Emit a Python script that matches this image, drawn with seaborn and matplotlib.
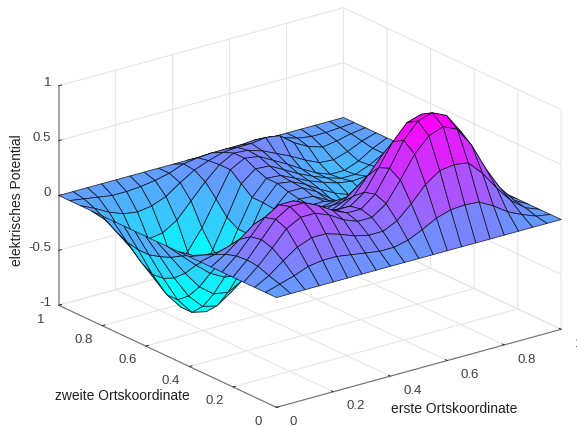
import numpy as np
import seaborn as sns
import matplotlib
matplotlib.use("Agg")
import matplotlib.pyplot as plt

# node positions on both space axes
x_nodes = [round(i * 0.05, 2) for i in range(21)]
y_nodes = [round(i * 0.05, 2) for i in range(21)]

# potential heights, one row per y node, x runs left to right
z_rows = [
    [0] * 21,
    [0, .04, .08, .13, .15, .15, .13, .11, .09, .09, .12, .18, .25, .29, .30, .29, .22, .13, .07, .02, 0],
    [0, .07, .17, .26, .31, .31, .27, .22, .19, .19, .25, .37, .51, .60, .62, .60, .47, .30, .15, .05, 0],
    [0, .11, .24, .38, .45, .45, .40, .32, .27, .27, .36, .54, .74, .87, .92, .86, .68, .43, .22, .07, 0],
    [0, .12, .27, .42, .50, .50, .44, .36, .30, .30, .40, .60, .82, .96, 1.0, .94, .76, .48, .25, .08, 0],
    [0, .11, .25, .39, .47, .47, .41, .33, .28, .28, .37, .56, .76, .90, .94, .88, .70, .44, .23, .08, 0],
    [0, .08, .18, .28, .33, .33, .29, .24, .21, .21, .29, .44, .59, .70, .71, .68, .54, .33, .17, .06, 0],
    [0, .03, .07, .12, .14, .14, .12, .11, .11, .13, .19, .29, .38, .44, .44, .41, .30, .18, .09, .03, 0],
    [0, -.02, -.03, -.04, -.05, -.05, -.05, -.03, .01, .06, .11, .15, .19, .20, .18, .15, .09, .04, .02, .00, 0],
    [0, -.07, -.14, -.20, -.24, -.25, -.22, -.16, -.08, .00, .05, .07, .06, .03, -.01, -.04, -.06, -.06, -.04, -.01, 0],
    [0, -.12, -.24, -.35, -.42, -.44, -.39, -.28, -.15, -.04, .02, .02, -.03, -.09, -.15, -.18, -.18, -.14, -.08, -.03, 0],
    [0, -.18, -.36, -.52, -.62, -.64, -.57, -.42, -.23, -.06, .03, .02, -.05, -.15, -.23, -.28, -.26, -.21, -.12, -.05, 0],
    [0, -.22, -.45, -.65, -.78, -.81, -.72, -.52, -.28, -.07, .05, .05, -.02, -.12, -.20, -.24, -.25, -.21, -.13, -.05, 0],
    [0, -.25, -.50, -.73, -.88, -.91, -.81, -.59, -.31, -.06, .08, .06, .00, -.08, -.15, -.20, -.21, -.18, -.12, -.05, 0],
    [0, -.25, -.51, -.73, -.88, -.91, -.81, -.59, -.31, -.06, .08, .07, .01, -.05, -.10, -.14, -.16, -.15, -.11, -.05, 0],
    [0, -.23, -.45, -.65, -.78, -.81, -.71, -.51, -.25, .02, .12, .11, .04, -.03, -.09, -.14, -.18, -.18, -.13, -.06, 0],
    [0, -.18, -.36, -.52, -.62, -.62, -.54, -.36, -.13, .10, .17, .15, .08, .01, -.07, -.14, -.19, -.19, -.14, -.06, 0],
    [0, -.12, -.24, -.35, -.40, -.38, -.30, -.16, -.02, .10, .17, .16, .12, .06, .00, -.07, -.13, -.14, -.10, -.04, 0],
    [0, -.06, -.13, -.18, -.20, -.18, -.13, -.04, .04, .09, .13, .14, .14, .16, .14, .04, -.03, -.07, -.05, -.02, 0],
    [0, -.02, -.04, -.06, -.06, -.05, -.03, .00, .05, .07, .08, .08, .08, .09, .08, .04, .00, -.02, -.02, -.01, 0],
    [0] * 21,
]

xy_ticks = [0, 0.2, 0.4, 0.6, 0.8, 1]
xy_labels = ["0", "0.2", "0.4", "0.6", "0.8", "1"]
z_ticks = [-1, -0.5, 0, 0.5, 1]
z_labels = ["-1", "-0.5", "0", "0.5", "1"]

sns.set_theme(style="white")
plt.rcParams["font.family"] = ["Liberation Sans", "DejaVu Sans"]

fig = plt.figure(figsize=(5.77, 4.27), dpi=100)
ax = fig.add_axes([-0.0858, -0.3302, 700 / 577, 700 / 427], projection="3d")
ax.set_proj_type("ortho")
ax.view_init(elev=21, azim=-127.4)
ax.set_box_aspect((1, 1, 0.656), zoom=0.775)
ax.patch.set_alpha(0)

X, Y = np.meshgrid(x_nodes, y_nodes)
Z = np.array(z_rows, dtype=float)

# cyan to magenta map, saturates at both ends like the original
cmap = sns.color_palette("cool", as_cmap=True)
ax.plot_surface(X, Y, Z, rstride=1, cstride=1, cmap=cmap, vmin=-0.6, vmax=0.95,
                edgecolor=(0, 0, 0, 0.75), linewidth=0.6, shade=False)

ax.set_xlim(0, 1)
ax.set_ylim(0, 1)
ax.set_zlim(-1, 1)
ax.set_xticks(xy_ticks)
ax.set_yticks(xy_ticks)
ax.set_zticks(z_ticks)
ax.set_xticklabels(xy_labels)
ax.set_yticklabels(xy_labels)
ax.set_zticklabels(z_labels)
ax.tick_params(axis="both", labelsize=9.5, labelcolor="#404040")
ax.tick_params(axis="x", pad=8)
ax.tick_params(axis="y", pad=9)
ax.tick_params(axis="z", pad=-4)

for lab in ax.get_xticklabels():
    lab.set_ha("left")
    lab.set_va("bottom")
for lab in ax.get_yticklabels():
    lab.set_va("bottom")
for lab in ax.get_zticklabels():
    lab.set_ha("right")
    lab.set_va("baseline")

for axis in (ax.xaxis, ax.yaxis, ax.zaxis):
    axis.set_pane_color((1, 1, 1, 0))
    axis.pane.set_edgecolor("#e4e4e4")
    axis.line.set_color("#707070")
    axis.line.set_linewidth(0.8)
    axis._axinfo["grid"].update(color="#e6e6e6", linewidth=0.8)
    axis._axinfo["tick"].update(inward_factor=0, outward_factor=0.12, linewidth={True: 0.7, False: 0.7})
    axis._axinfo["tick"]["color"] = "#707070"
ax.zaxis.line.set_color("#a0a0a0")
ax.zaxis.line.set_linewidth(1.3)

fig.text(17 / 577, 1 - 200 / 427, "elektrisches Potential", rotation=90, ha="center", va="center",
         fontsize=10, color="#202020")
fig.text(122 / 577, 1 - 396 / 427, "zweite Ortskoordinate", ha="center", va="center",
         fontsize=10, color="#202020")
fig.text(454 / 577, 1 - 409 / 427, "erste Ortskoordinate", ha="center", va="center",
         fontsize=10, color="#202020")

fig.savefig("out.png", dpi=100)
